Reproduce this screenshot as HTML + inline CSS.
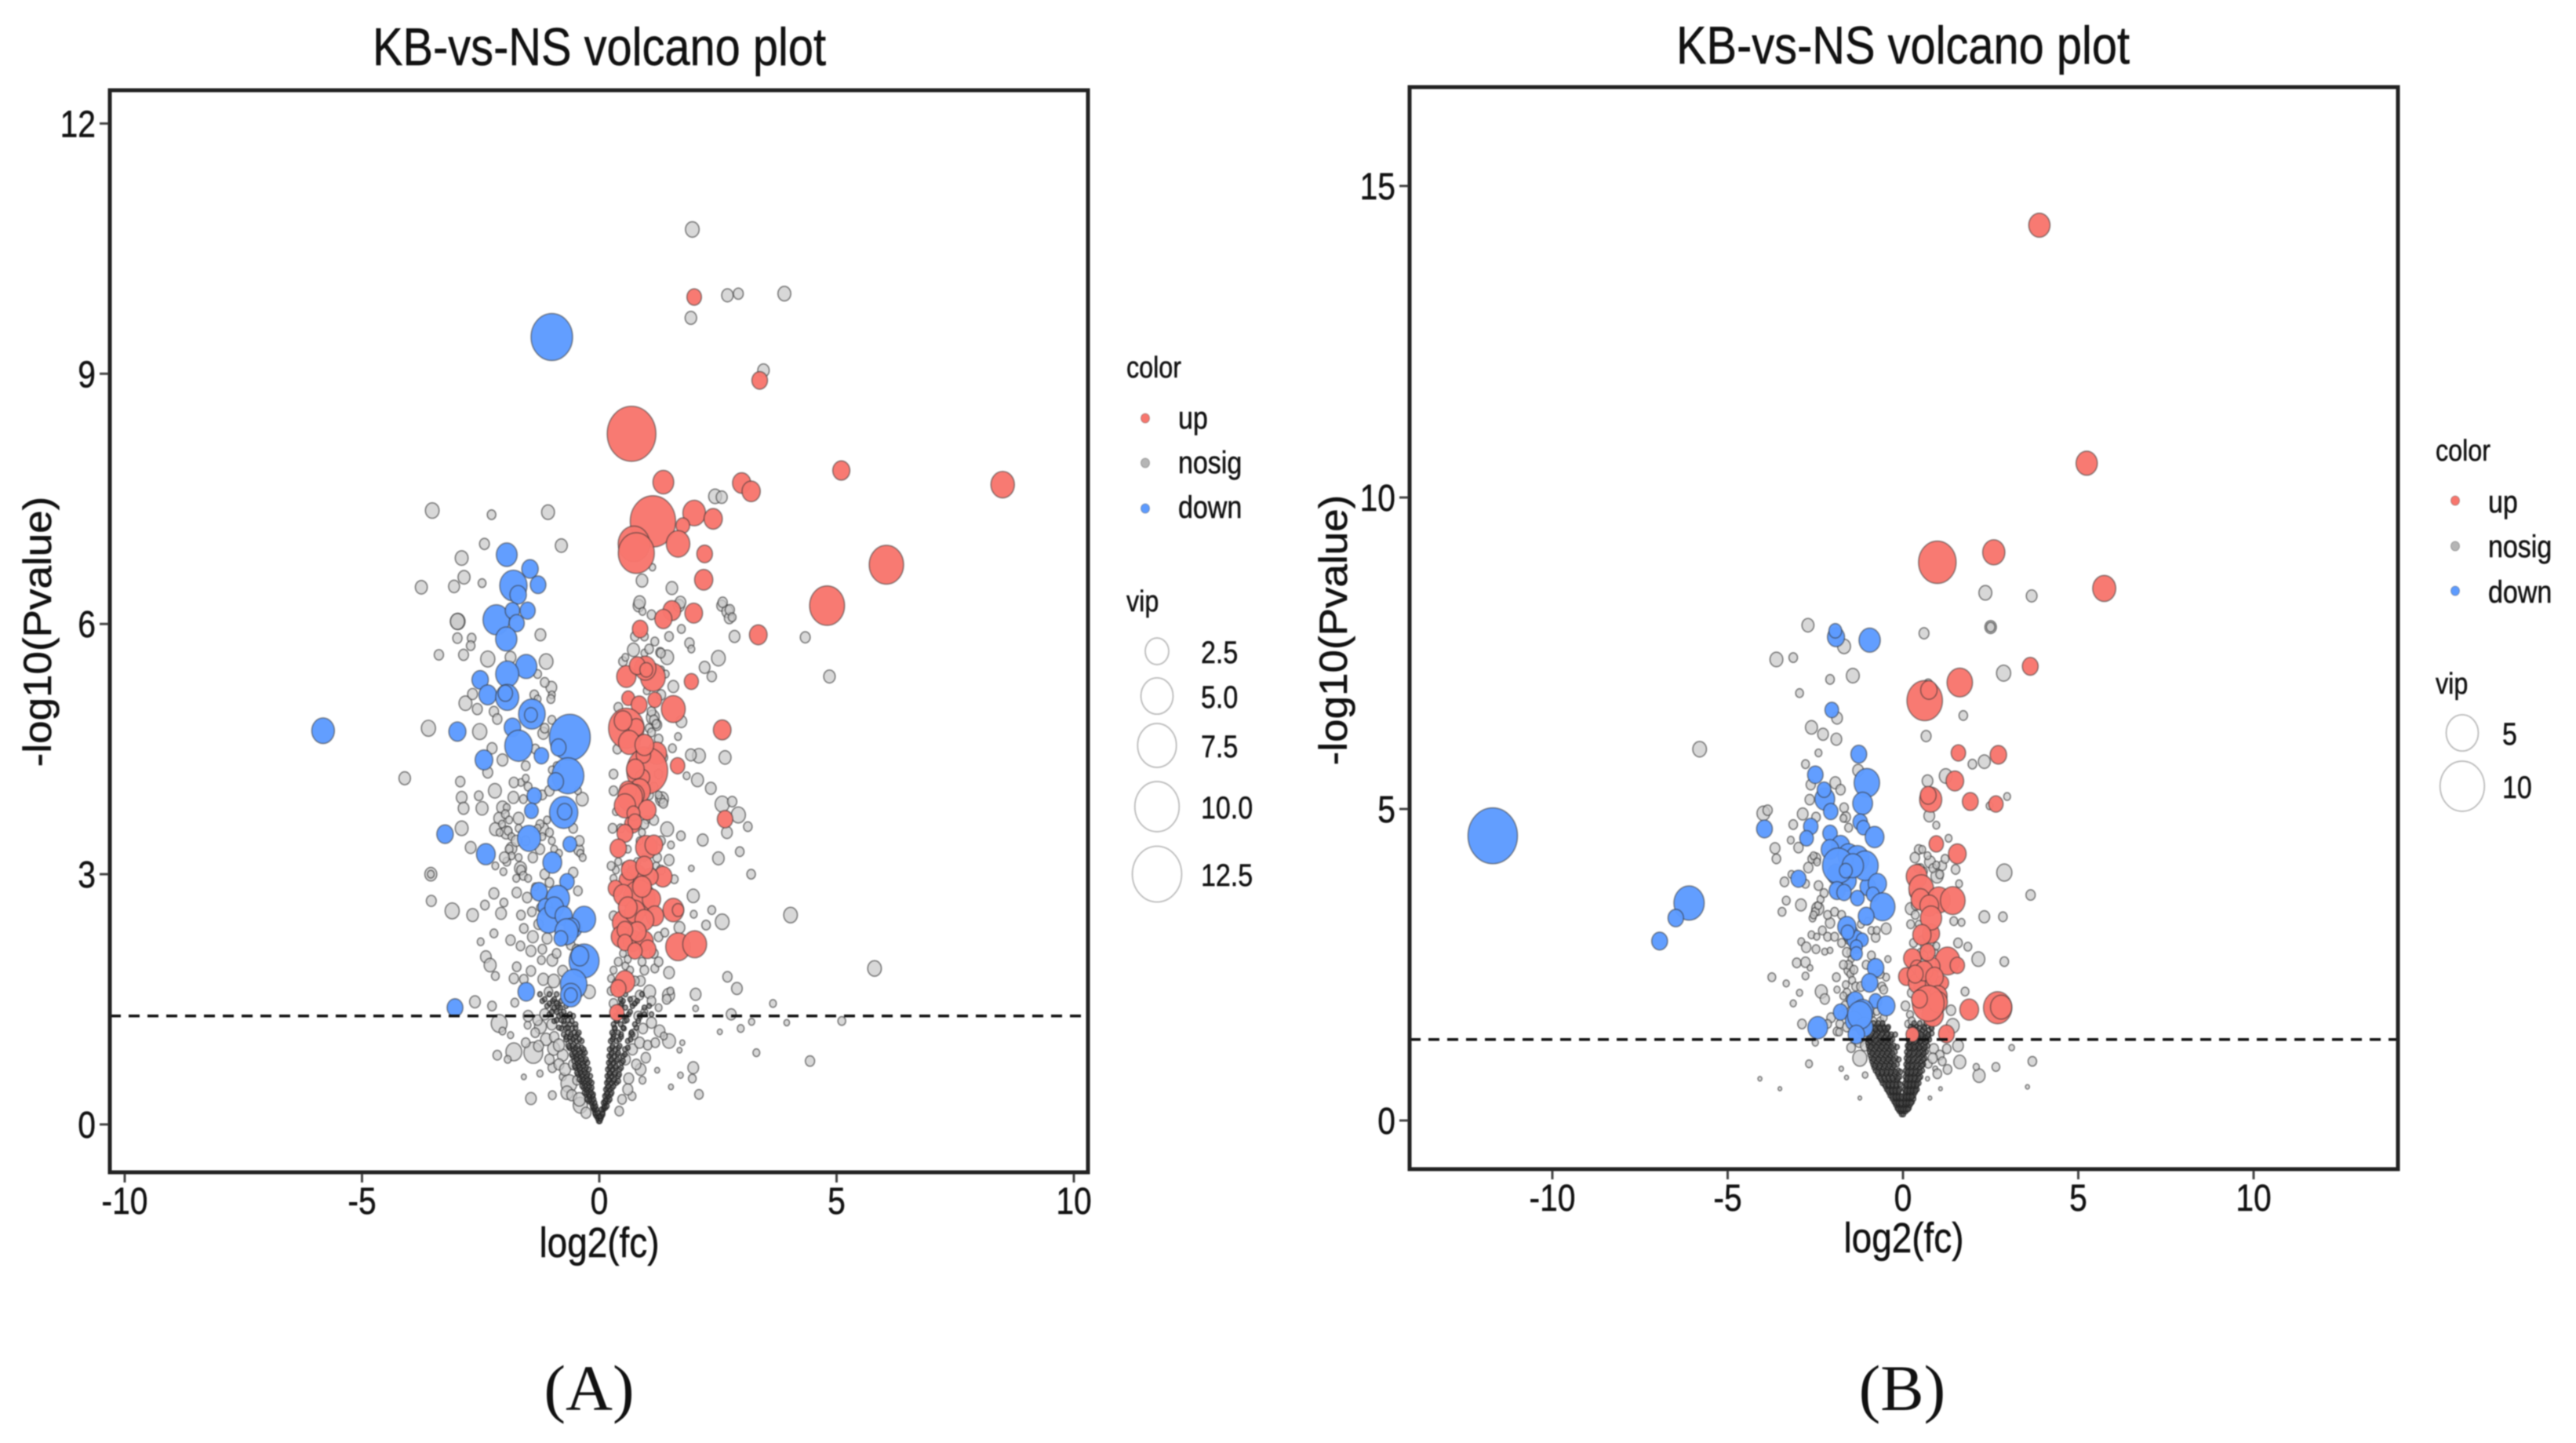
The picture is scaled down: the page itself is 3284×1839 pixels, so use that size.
<!DOCTYPE html>
<html lang="en">
<head>
<meta charset="utf-8">
<title>KB-vs-NS volcano plots</title>
<style>
html,body{margin:0;padding:0;background:#fff;width:3284px;height:1839px;overflow:hidden}
svg{display:block;filter:blur(0.9px)}
text{font-family:"Liberation Sans",sans-serif;fill:#111;stroke:#111;stroke-width:.5px}
text.caption{font-family:"Liberation Serif",serif;stroke:none}
</style>
</head>
<body>
<svg id="figure" xmlns="http://www.w3.org/2000/svg" width="3284" height="1839" viewBox="0 0 3284 1839">
  <rect width="3284" height="1839" fill="#fff"/>
  <g id="panelA"></g>
  <g id="panelB"></g>
  <text class="caption" x="751" y="1797" text-anchor="middle" font-size="83">(A)</text>
  <text class="caption" x="2425" y="1797" text-anchor="middle" font-size="83">(B)</text>
</svg>
<script>
// ---------- Panel A values: [log2fc, -log10p, vip] ----------
const upA=[[2.0,9.92,.82],[3.38,8.92,.97],[.68,8.28,12.2],[1.35,7.7,1.9],[3.0,7.69,1.4],[3.2,7.59,1.4],[5.1,7.84,1.2],[8.5,7.67,2.5],[1.13,7.23,10.5],[2.0,7.33,2.3],[2.4,7.26,1.4],[1.76,7.18,.7],[1.66,6.96,2.5],[.73,6.96,4.8],[.78,6.85,6.4],[2.22,6.84,.97],[2.2,6.53,1.4],[6.05,6.71,5.8],[4.8,6.22,6],
[1.53,6.16,1.3],[1.35,6.06,1.2],[1.99,6.13,1.3],[.86,5.94,.95],[3.35,5.87,1.3],[1.13,5.36,2.8],[.97,5.47,2],[.57,5.37,1.6],[.8,5.5,1],[.99,5.45,.6],[1.94,5.31,.76],[.61,5.11,.6],[.84,5.03,1],[1.17,5.09,.7],[1.56,4.98,2.6],[2.59,4.73,1.3],[.57,4.75,6.2],[.78,4.76,.95],[.63,4.58,2],[.5,4.84,1.3],[1.21,4.45,1.7],[1.01,4.24,8.4],[.93,4.43,.8],[1.65,4.3,.8],[.91,4.16,.8],[.76,4.26,1.3],[.85,4.0,2],[.75,3.95,1.5],[.95,4.55,1.5],[.7,3.6,1],[.6,4.0,1.2],[.65,3.92,2.8],[.54,3.82,2],[1.01,3.77,1.3],[.72,3.73,.6],[.75,3.63,.7],[2.65,3.66,.95],[.54,3.49,1],[.4,3.31,1.1],[.99,3.32,2],[1.15,3.35,1.3],[.78,2.97,2],[1.34,2.97,1.4],[1.08,2.97,.9],[.57,2.93,.8],[.34,2.83,.8],[.84,2.71,4.9],[1.1,2.7,1.4],[1.56,2.57,1.9],[1.66,2.57,.45],[1.17,2.5,1.3],[.69,2.52,.8],[.5,2.42,2],[.5,2.75,1.5],[.75,2.55,1.8],[.95,2.45,1.5],[.6,2.6,1.5],[.9,2.85,1.5],[.45,2.25,1.5],[.7,2.2,1.5],[.95,2.2,1.3],[.65,3.05,1.3],[.95,3.1,1.2],[.8,2.31,1.3],[.54,2.33,.95],[.54,2.18,.8],[1.02,2.1,1.1],[.75,2.08,.8],[1.66,2.13,2.8],[2.01,2.16,2.6],[.54,1.71,1.7],[.4,1.63,.95],[.37,1.34,.8]];
const downA=[[-1.0,9.44,8.7],[-5.82,4.72,2.3],[-1.95,6.83,1.9],[-1.46,6.66,1.1],[-1.29,6.47,.97],[-1.81,6.46,3.5],[-1.71,6.35,1.1],[-2.17,6.05,3.3],[-1.83,6.16,.8],[-1.51,6.16,.9],[-1.74,6.01,.9],[-1.96,5.82,2],
[-1.54,5.49,2],[-1.94,5.4,2.4],[-2.51,5.33,1.1],[-2.35,5.15,1.3],[-1.94,5.12,2.4],[-1.98,5.17,.8],[-1.42,4.92,3.3],[-1.44,4.91,.6],[-1.83,4.76,1.1],[-2.99,4.71,1.2],[-1.7,4.54,3.6],[-.62,4.64,8.4],[-.86,4.52,.9],[-1.22,4.42,.8],[-2.43,4.37,1.3],[-.66,4.18,4.9],[-.92,4.11,1],[-1.37,3.94,.8],[-1.43,3.76,.7],[-.75,3.74,3.8],[-.73,3.75,.8],[-3.25,3.48,1.1],[-1.48,3.43,2.4],[-.62,3.36,.7],[-2.39,3.24,1.5],[-.99,3.14,1.5],[-.68,2.91,.8],[-1.27,2.79,1.1],[-.87,2.71,2.4],[-1.14,2.61,.8],[-1.07,2.45,2.4],[-.95,2.6,1.5],[-.75,2.5,1.2],[-.55,2.35,1.2],[-.32,2.46,2.4],[-.58,2.37,.95],[-.69,2.31,2.4],[-.81,2.23,.7],[-.32,1.96,4.3],[-.41,2.02,1.3],[-.54,1.68,3.3],[-.6,1.55,1.9],[-.6,1.55,.6],[-1.54,1.59,1.1],[-3.04,1.4,1]];
const nosigA=[[1.96,10.73,.7],[2.7,9.94,.45],[2.93,9.96,.3],[3.9,9.96,.6],[1.93,9.67,.45],[3.46,9.04,.45],[-3.52,7.36,.7],[-2.27,7.31,.2],[-1.08,7.34,.6],[2.44,7.53,.6],[2.58,7.52,.4],[-2.42,6.96,.3],[-.8,6.94,.5],[-2.9,6.79,.6],[-2.85,6.56,.5],[-3.75,6.44,.5],[-3.06,6.45,.4],[-2.47,6.49,.15],[1.12,6.68,.08],[.9,6.52,.45],[1.53,6.43,.45],[.83,6.22,.4],[1.68,6.22,.4],[2.58,6.22,.3],[2.7,6.15,.4],[2.74,6.07,.3],[-2.98,6.03,.8],
[-2.99,6.03,.76],[-2.99,5.83,.25],[-2.69,5.83,.2],[-2.71,5.74,.2],[-3.38,5.63,.25],[-2.86,5.63,.3],[-2.35,5.58,.76],[-1.24,5.87,.37],[-1.87,5.6,.37],[-1.12,5.55,.7],[-2.82,5.05,.6],[-2.67,5.16,.3],[-2.57,4.98,.3],[-2.22,4.95,.25],[-2.15,4.86,.25],[-1.01,5.24,.37],[-1.37,5.15,.2],[-3.6,4.75,.76],[-2.52,4.71,.76],[-1.18,4.69,.37],[-2.26,4.51,.3],[-2.04,4.37,.37],[-2.35,4.22,.3],[-4.1,4.15,.45],[-2.93,4.11,.25],[-2.2,4.0,.6],[-2.9,3.92,.37],[-2.54,3.94,.2],[-2.47,3.79,.5],[-2.86,3.79,.37],[-2.04,3.8,.45],[-1.81,3.92,.37],[-.36,3.9,.5],[-2.11,3.67,.37],[-1.7,3.67,.37],[-2.9,3.55,.6],[-2.19,3.54,.45],[-1.96,3.5,.45],[-1.18,3.54,.37],[-2.71,3.32,.37],[-1.85,3.31,.37],[-1.66,3.07,.5],[-3.55,3.0,.5],[-3.55,3.0,.1],[-2.19,3.1,.1],[-2.02,3.03,.1],[-.43,3.29,.3],[-1.74,2.78,.25],[-2.22,2.77,.3],[-3.54,2.68,.3],[-3.1,2.56,.76],[-2.67,2.51,.45],[-2.41,2.63,.2],[-2.07,2.53,.37],[-2.01,2.66,.15],[-1.65,2.51,.2],[-2.22,2.29,.15],[-2.5,2.19,.1],[-1.87,2.21,.25],
[-1.59,2.35,.2],[-1.4,2.25,.37],[-1.1,2.23,.3],[-1.66,2.14,.2],[-1.44,2.08,.3],[-2.39,2.01,.37],[-2.3,1.91,.5],[-2.19,1.78,.15],[-1.74,1.89,.2],[-1.44,1.84,.25],[-1.8,1.75,.25],[-1.59,1.74,.2],[-1.18,1.74,.37],[-.96,1.72,.5],[-2.62,1.47,.37],[-2.26,1.42,.2],[-1.78,1.46,.15],[-.21,1.59,.5],[-1.22,1.97,.15],[-.99,1.97,.37],[-.77,1.84,.3],[-1.07,1.59,.2],[-.92,1.42,.37],[-2.11,1.21,1],[-1.51,1.19,.1],[-1.24,1.17,.5],[-1.87,1.07,.07],[-2.04,1.12,.1],[-1.8,.87,1],[-1.39,.86,1.5],[-2.15,.83,.2],[-1.93,.78,.1],[-.96,.91,.5],[-.77,.83,.37],[-1.59,.57,.03],[-1.25,.61,.07],[-.99,.68,.2],[-.77,.57,.1],[-.64,.49,1],[-1.44,.31,.37],[-.99,.35,.15],[-.4,.23,.76],[-.47,.53,.2],
[.85,6.26,.45],[1.71,6.26,.37],[.91,6.15,.1],[1.1,6.11,.2],[2.6,6.26,.25],[2.75,6.17,.25],[2.8,6.08,.15],[1.73,5.94,.15],[1.47,5.85,.2],[1.17,5.79,.15],[2.85,5.85,.37],[4.34,5.84,.3],[1.9,5.77,.25],[1.94,5.7,.1],[.72,5.69,.5],[1.28,5.66,.2],[1.43,5.6,.6],[2.51,5.59,.7],[2.22,5.48,.37],[2.37,5.37,.25],[4.85,5.37,.45],[1.56,5.25,.37],[1.13,4.88,.6],[1.21,4.79,.3],[1.73,4.83,.37],[1.66,4.65,.1],[1.54,4.51,.15],[2.1,4.42,.6],[1.93,4.43,.37],[2.65,4.4,.5],[1.32,3.9,.6],[1.84,4.18,.1],[2.07,4.13,.5],[2.35,4.03,.37],[2.59,3.84,.76],[2.8,3.87,.25],[2.93,3.71,.76],[3.13,3.57,.2],[2.69,3.5,.37],[1.43,3.54,.6],[1.72,3.46,.2],[2.18,3.41,.37],[2.96,3.27,.2],[2.51,3.19,.45],[1.51,3.35,.1],[1.47,3.17,.3],[1.94,3.07,.05],[3.2,3,.2],[1.58,2.94,.15],[1.98,2.74,.5],[2.37,2.57,.15],[1.99,2.52,.1],[2.59,2.43,.7],[4.03,2.51,.7],[2.25,2.39,.2],[1.69,2.36,.37],[5.8,1.87,.7],[2.7,1.77,.25],[2.9,1.63,.37],[2.03,1.56,.37],[1.47,1.82,.37],[1.46,1.55,.5],[1.06,1.59,.5],[.87,1.72,.25],[1.17,1.87,.15],[3.66,1.45,.1],[2.03,1.39,.05],[2.78,1.32,.3],[3.21,1.23,.07],[3.95,1.22,.05],[5.11,1.24,.15],[2.98,1.15,.1],[2.54,1.11,.03],[1.27,1.12,.37],[1.47,1,.6],[1.36,1.06,.1],[1.75,.98,.03],[1.69,.89,.03],[3.31,.86,.1],[4.44,.76,.25],[1.98,.68,.37],[1.71,.59,.05],[1.22,.65,.03],[1.96,.55,.15],[.87,.66,.37],[2.1,.36,.2],[1.51,.45,.03],[.69,.34,.15],[.91,.53,.1],
[-1.95,3.8,.1],[-1.98,3.72,.15],[-1.9,3.65,.1],[-2.05,3.6,.1],[-1.92,3.52,.15],[-2.1,3.5,.1],[-1.85,3.45,.1],[-1.7,3.55,.1],[-1.6,3.9,.15],[-1.5,4.05,.15],[-1.65,4.1,.1],[-1.55,4.15,.1],[-1.1,3.65,.1],[-1.25,3.6,.15],[-1.05,3.5,.15],[-1.2,3.45,.1],[-1.3,3.55,.1],[-1.0,3.4,.1],[-.95,3.3,.1],[-.85,3.25,.1],[-.4,3.25,.1],[-.35,3.2,.1],[-1.9,3.3,.15],[-1.85,3.22,.1],[-1.95,3.15,.15],[-1.7,3.2,.1],[-1.65,3.05,.2],[-1.6,2.98,.15],[-1.75,2.95,.1],[-1.5,2.95,.1],[-1.35,2.85,.1],[-1.25,2.6,.1],[-.45,4.0,.1],[-.9,4.3,.1],[-1.0,4.25,.1],[-1.3,5.1,.1],[-1.0,5.15,.1],[-1.02,5.1,.15],
[.5,5.55,.2],[.55,5.6,.1],[.95,5.65,.1],[1.4,5.4,.1],[1.3,5.45,.1],[1.0,5.2,.1],[1.1,4.95,.2],[1.15,4.85,.2],[1.05,4.75,.15],[1.2,4.8,.15],[.85,4.2,.1],[1.3,3.9,.15],[1.35,3.85,.2],[1.25,3.95,.1],[1.0,3.65,.1],[.9,3.5,.1],[.85,3.4,.1],[.6,3.3,.1],[.45,3.55,.15],[.35,3.75,.1],[.4,3.15,.1],[.55,3.1,.1],[.65,3.0,.15],[.8,3.15,.1],[.95,3.2,.1],[1.2,3.1,.1],[.3,2.95,.1],[.35,3.05,.1],[.5,2.05,.1],[.4,1.95,.15],[.3,1.85,.1],[.55,1.9,.1],[.6,1.98,.1],[.65,1.85,.1],[.25,1.75,.1],[.35,1.7,.1],[.95,1.35,.1],[1.25,1.4,.1],[1.42,1.5,.2],[1.5,1.6,.1],
[-1.5,1.3,.3],[-1.3,1.25,.25],[-1.15,1.32,.3],[-1.0,1.2,.3],[-1.35,1.1,.2],[-1.12,1.02,.4],[-.95,1.05,.25],[-1.55,.98,.2],[-1.28,.94,.3],[-.85,.95,.4],[-1.05,.78,.25],[-.85,.72,.3],[-.72,.66,.4],[-.68,.38,.5],[-.58,.35,.3],[-.55,.72,.25],[-.6,.95,.3],[-.42,.3,.5],[.62,.55,.3],[.55,.78,.3],[.7,.9,.3],[.78,.72,.25],[.85,.98,.3],[.98,.8,.25],[.72,1.08,.25],[.92,1.15,.25],[1.1,1.22,.3],[1.02,.95,.2],[.6,.42,.3],[.48,.3,.2],[.82,1.3,.2],[1.18,.98,.2],[.42,.16,.2],[-.28,.14,.3],
[-.6,2.15,.2],[-.48,2.1,.2],[-.9,2.05,.2],[-1.2,2.1,.2],[-1.28,2.4,.25],[-1.42,2.55,.2],[-1.52,2.72,.25],[-.45,2.8,.2],[-.55,3.02,.25],[-.42,3.4,.25],[-.55,3.55,.2],[-1.15,3.0,.25],[-1.05,2.9,.2],[-1.4,3.2,.25],[-1.25,3.3,.25],[-1.55,3.4,.2],[-1.75,3.4,.3],[-2.0,3.2,.3],[-1.45,3.75,.2],[-1.2,3.95,.2],[-1.05,4.0,.25],[-1.55,4.3,.2],[-1.8,4.1,.25],[-1.35,4.5,.2],[-1.15,4.75,.2],[-1.0,4.85,.15],[-1.55,5.0,.2],[-1.15,5.3,.2],[-1.3,5.4,.15],
[.3,2.5,.2],[.25,3.1,.15],[.28,3.55,.2],[.3,4.0,.2],[.3,4.2,.2],[.38,4.5,.2],[.4,5.0,.2],[.95,3.6,.2],[1.15,3.65,.25],[1.22,3.2,.2],[1.3,3.4,.2],[1.3,3.05,.2],[1.25,2.25,.2],[1.15,2.05,.2],[1.25,1.95,.2],[1.38,2.3,.15],[.25,1.6,.15],[.3,1.45,.2],[.72,1.48,.2],[.85,1.55,.2],[.95,1.85,.2],[.75,1.72,.2],[1.1,1.48,.2],[.9,1.95,.15],[1.05,3.95,.2],[1.15,4.05,.15],[1.25,4.2,.2],[1.35,4.4,.2],[1.25,4.62,.2],[1.1,4.7,.15],[1.3,5.15,.25],[1.3,5.65,.2],[1.05,5.7,.2],[.95,5.85,.15],[.75,5.85,.2]];
// Dense base of the volcano, panel A: one significance level per row, its log2fc values beside it
const baseLevelsA=[.04,.07,.1,.12,.14,.18,.2,.22,.26,.28,.3,.34,.36,.38,.42,.44,.46,.5,.52,.54,.58,.6,.62,.66,.68,.7,.74,.76,.78,.82,.84,.86,.9,.92,.94,1.0,1.02,1.05,1.08,1.1,1.15,1.16,1.2,1.24,1.25,1.3,1.32,1.35,1.4,1.42,1.45,1.48,1.5,1.56];
const baseFcA=[[-.01,.01],[-.03,.02,.03],[-.06,-.02,.05,.02],[-.08,.07],[-.09,-.04,.07],[-.11,-.06,.09,.05],[-.13,-.1,.1,.13],[-.14,-.08,.11,.16],[-.17,-.1,.13,.09],[-.22,-.15,.12,.19],[-.2,-.12,-.26,.15,.22],[-.22,-.14,.12,.19],[-.28,-.2,-.13,.15,.24],[-.26,-.17,-.31,.17,.26],[-.28,-.19,.14,.22],[-.33,-.24,-.16,.17,.27],[-.3,-.21,-.36,.19,.3],[-.33,-.23,-.16,.16,.26,.36],[-.38,-.29,-.2,.19,.3,.4],[-.35,-.25,-.42,.2,.31],[-.37,-.27,-.19,.17,.26,.4],[-.45,-.35,-.25,.21,.32,.42],[-.4,-.3,-.47,.22,.33],[-.42,-.31,-.22,.18,.28,.43],[-.5,-.4,-.28,.22,.34,.46],[-.44,-.33,-.52,.23,.35],[-.46,-.35,-.25,.2,.3,.47],[-.53,-.42,-.31,.24,.36,.5],[-.48,-.37,-.28,.25,.38],[-.5,-.39,-.56,.21,.32,.5],[-.58,-.46,-.34,.25,.38,.54],[-.52,-.41,-.3,.26,.4],[-.55,-.43,-.33,.22,.34,.54],[-.62,-.5,-.37,.27,.4,.6],[-.57,-.45,-.64,.28,.43],[-.6,-.48,-.37,.24,.36,.6],[-.7,-.55,-.42,.28,.42,.66],[-.62,-.5,-.7,.3,.46],[-.75,-.6,-.46,.3,.46,.7],[-.66,-.53,-.43,.27,.4,.68],[-.7,-.57,-.8,.33,.52],[-.85,-.66,-.5,.32,.5,.78],[-.74,-.62,-.5,.3,.45,.75],[-.95,-.75,-.58,.36,.54,.82],[-.8,-.66,-.9,.38,.58],[-.85,-.7,-.55,.34,.5,.85],[-1.05,-.8,-.62,.4,.62,.95,1.1],[-.9,-.75,-1.0,.42,.65],[-.95,-.82,.38,.55,.95],[-1.1,-.88,-.7,.45,.7,1.05],[-1.05,-.9,.47,.75],[-1.2,-.98,-.8,.5,.8],[-1.15,-.95,.45,.65],[-1.25,-1.05,-.9,.55,.9]];

// ---------- Panel B values: [log2fc, -log10p, vip] ----------
const upB=[[3.89,14.37,2],[5.24,10.55,2],[.98,8.96,7],[2.59,9.12,2.2],[5.74,8.54,2.4],[.62,6.74,6.2],[.74,6.91,1.1],[1.62,7.03,3],[3.63,7.29,1],[1.58,5.9,.8],[2.72,5.87,1.1],[1.48,5.45,1.3],[.79,5.15,2.2],[.72,5.22,1],[1.92,5.12,1],[2.65,5.08,.8],[.95,4.44,.8],[1.55,4.28,1.3],[.39,3.92,1.9],[.52,3.72,2.8],[1.02,3.54,2.4],[1.42,3.53,2.8],[.5,3.55,1.5],[.75,3.45,1.5],[.8,3.0,1.2],[.8,3.25,2],[.54,2.98,1.4],[.27,2.6,1.3],[1.27,2.56,2.8],[1.55,2.49,.8],[.82,2.47,1.1],[.4,2.45,.7],[.1,2.31,1],[.82,2.32,.6],[1.12,2.21,.6],[.57,2.16,1.3],[.4,2.2,1.2],[.6,2.4,1.3],[.9,2.3,1.3],[1,2.0,1.4],[.55,1.95,1.5],[.85,1.7,2],[1.0,1.9,1.5],[.7,2.7,.9],[.35,2.35,1],[.72,1.88,4.9],[.47,1.95,1],[1.89,1.78,1.5],[2.7,1.81,3.8],[2.8,1.82,2],[1.24,1.39,1],[.27,1.38,.6]];
const downB=[[-11.7,4.57,12.6],[-6.1,3.49,4.4],[-6.48,3.25,.95],[-6.94,2.88,1],[-1.91,7.76,1.2],[-1.93,7.86,.6],[-.95,7.71,2],[-2.03,6.59,.7],[-1.26,5.88,1],[-2.5,5.55,.95],[-1.03,5.42,3],[-2.23,5.16,1.7],[-2.25,5.31,.7],[-1.15,5.09,1.7],[-2.06,4.96,.8],[-1.22,4.79,.8],[-1.13,4.7,.6],[-2.63,4.72,.8],[-.81,4.55,1.5],[-3.95,4.68,1],[-2.75,4.53,.7],[-2.08,4.61,.8],[-1.78,4.41,1.4],[-2.08,4.35,1.3],[-1.55,4.25,2],[-1.3,4.2,2.5],[-1.6,3.85,1.5],[-1.9,3.95,1.4],[-1.0,3.75,1],[-1.85,4.09,4.7],[-1.08,4.09,3.2],[-1.43,4.09,2],[-1.63,4.01,.6],[-2.98,3.88,.9],[-.73,3.8,1.4],[-1.88,3.69,1],[-1.68,3.66,.8],[-1.3,3.57,.7],[-.86,3.63,.6],[-.58,3.43,2.8],[-1.05,3.28,1],[-1.5,3.0,1],[-1.35,2.9,1.2],[-1.6,3.11,1.4],[-1.58,3.02,.6],[-1.16,2.9,.5],[-1.33,2.79,.5],[-1.33,2.68,.5],[-.78,2.45,1.1],[-.95,2.21,1.1],[-1.36,1.92,1.1],[-.78,1.92,.6],[-.48,1.84,1.3],[-1.78,1.74,.8],[-1.15,1.75,2],[-1.4,1.6,1.2],[-1.1,1.5,1.2],[-1.23,1.69,2.8],[-2.43,1.49,1.7],[-1.33,1.38,1.1]];
const nosigB=[[-2.71,7.95,.5],[-3.13,7.43,.2],[-3.61,7.4,.6],[-1.68,7.61,.6],[-2.08,7.08,.2],[-1.43,7.14,.6],[-2.95,6.86,.15],[-1.88,6.46,.37],[-2.61,6.31,.5],[-2.28,6.2,.37],[-1.9,6.12,.37],[-2.41,5.9,.1],[-5.8,5.96,.7],[-2.78,5.72,.15],[-1.28,5.62,.37],[-1.93,5.42,.37],[-2.63,5.39,.25],[-1.78,5.31,.25],[-2.66,5.15,.25],[-1.68,5.02,.2],[-1.63,4.87,.25],[-2.86,4.92,.37],[-3.98,4.93,.6],[-3.86,4.98,.25],[-3.13,4.75,.2],[-2.48,4.87,.2],[-3.2,4.5,.1],[-2.98,4.38,.25],[-3.65,4.37,.3],[-3.61,4.2,.2],[-2.48,4.21,.25],[-2.7,4.06,.25],[-3.38,3.83,.2],[-3.18,3.95,.1],[-2.41,3.77,.2],[-2.78,3.8,.15],[-3.33,3.53,.15],[-3.45,3.35,.15],[-2.91,3.46,.37],[-2.43,3.4,.5],[-2.58,3.25,.1],[-2.08,3.17,.25],[-.48,3.08,.3],[-.78,2.94,.2],[-2.61,2.98,.1],[-2.46,2.95,.07],[-2.9,2.87,.1],[-2.76,2.78,.25],[-2.48,2.75,.15],[-2.23,2.71,.07],[-2.08,2.73,.05],[-3.03,2.53,.2],[-2.78,2.54,.25],[-2.65,2.45,.05],[-2.78,2.32,.1],[-3.74,2.3,.15],[-3.33,2.2,.07],[-2.95,2.05,.07],[-3.13,1.88,.07],[-2.33,2.07,.5],[-2.23,1.95,.25],[-1.88,2.1,.07],[-1.48,2.59,.07],[-1.53,2.42,.37],[-1.63,2.18,.1],[-.48,2.3,.1],[-.43,2.59,.07],[-1.88,1.43,.15],[-2.5,1.25,.07],[-1.23,1,.76],[-1.48,1.17,.2],[-2.68,.91,.1],[-1.76,.83,.02],[-1.61,.69,.01],[-1.08,.73,.05],[-4.08,.67,.01],[-3.51,.51,.005],[-1.23,.36,.005],[-2.88,1.55,.2],
[2.35,8.47,.6],[3.67,8.42,.37],[.6,7.82,.3],[2.5,7.92,.45],[2.5,7.92,.2],[2.87,7.18,.76],[.72,7.01,.2],[1.72,6.5,.2],[.66,6.17,.3],[1.98,5.72,.2],[2.32,5.76,.5],[1.22,5.53,.6],[.7,5.45,.37],[2.97,5.2,.1],[2.47,5.05,.1],[.75,4.89,.37],[.95,4.74,.1],[1.3,4.53,.1],[.45,4.35,.2],[.34,4.22,.25],[.77,4.15,.37],[1.12,4.09,.2],[1.5,4.03,.2],[.97,3.92,.5],[2.89,3.98,.9],[1.6,3.8,.1],[3.64,3.62,.25],[.22,3.4,.37],[.37,3.46,.25],[2.32,3.27,.37],[2.85,3.27,.2],[1.67,3.18,.1],[1.57,2.85,.2],[1.85,2.79,.15],[2.15,2.59,.6],[2.89,2.55,.2],[1.77,2.07,.15],[1.37,1.77,.25],[1.42,1.52,.6],[.07,1.84,.2],[1.57,1.2,.37],[1.62,.94,.5],[3.1,1.17,.05],[3.69,.95,.2],[2.17,.72,.5],[2.65,.86,.15],[2.09,.86,.07],[1.27,.82,.2],[.92,.83,.03],[.72,.91,.15],[1.07,.51,.005],[3.55,.54,.01],[.77,.36,.005],[.7,.67,.01],
[-2.5,3.35,.15],[-2.42,3.45,.1],[-2.55,3.3,.1],[-2.35,3.55,.1],[-2.6,4.2,.15],[-2.55,4.25,.1],[-2.45,4.15,.1],[-1.55,2.9,.15],[-1.5,2.7,.1],[-1.55,2.5,.15],[-1.5,2.35,.1],[-1.45,2.25,.1],[-1.6,2.05,.15],[-1.7,2.0,.1],[-1.65,1.85,.15],[-1.75,1.7,.1],[-1.8,1.55,.15],[-1.82,1.42,.1],[-.9,1.7,.1],[-.85,1.6,.1],[-.75,1.75,.1],[-.65,1.6,.1],[-.6,1.5,.1],[-.55,1.65,.1],[-1.05,1.45,.1],[-.95,1.5,.1],[-.7,1.45,.1],[-1.55,4.7,.15],[-1.7,4.85,.1],[-1.0,3.2,.1],[-1.2,3.15,.1],[-.9,3.05,.1],[-.75,3.05,.1],
[.55,2.9,.15],[.6,2.8,.1],[.7,2.75,.1],[.8,2.85,.15],[.9,2.7,.1],[.65,2.95,.1],[.75,3.0,.1],[.85,2.95,.1],[.95,2.8,.1],[.5,2.7,.1],[.6,2.65,.15],[.45,3.15,.1],[.35,3.3,.15],[.5,4.05,.15],[.6,4.0,.1],[.85,4.05,.15],[.95,4.1,.1],[.7,4.25,.1],[.55,4.35,.1],[.3,2.3,.1],[.2,1.7,.1],[.15,1.55,.1],[.25,1.6,.1],[.7,1.35,.1],[.3,1.45,.1],
[-2.3,3.05,.15],[-2.15,3.3,.15],[-1.95,3.35,.15],[-1.75,3.3,.15],[-2.25,3.65,.15],[-2.15,2.95,.15],[-1.95,2.95,.15],[-1.75,2.85,.15],[-1.6,2.7,.2],[-1.7,2.5,.15],[-1.9,2.3,.15],[-1.4,2.42,.15],[-1.35,2.15,.15],[-1.5,1.95,.2],[-1.2,2.15,.2],[-1.05,2.5,.15],[-.9,2.65,.15],[-.65,2.35,.15],[-.6,2.15,.15],[-.55,2.1,.15],[-2.05,1.65,.2],[-2.15,1.55,.15],[-1.6,1.5,.2],[-1.25,1.25,.2],[-1.08,1.2,.25],[-.75,1.25,.2],[.22,1.2,.2],[.35,1.25,.2],[.52,1.12,.2],[.88,1.15,.25],[1.05,1.05,.2],[1.25,1.15,.2],[.85,1.0,.25],[.98,.75,.2],[1.12,.95,.15],[.25,2.05,.2],[.3,2.85,.15],[.22,3.15,.15],[.3,3.65,.15],[.42,4.05,.15],[1.2,4.2,.15],[1.05,3.95,.15],[1.45,3.2,.15]];
// Dense base of the volcano, panel B
const baseLevelsB=[.1,.15,.2,.25,.3,.35,.4,.45,.5,.55,.6,.65,.7,.75,.8,.85,.9,.95,1.0,1.05,1.1,1.15,1.2,1.25,1.3,1.35,1.4,1.45,1.5,.18,.28,.38,.48,.58,.68,.78,.88,.98,1.08,1.18,1.28,1.38,1.48,1.56];
const baseFcB=[[-.04,.01],[-.1,-.05,.03,.08],[-.16,-.09,-.03,.04,.1,.17],[-.2,-.13,-.06,.05,.12,.2],[-.25,-.17,-.09,.03,.1,.18,.26],[-.3,-.21,-.12,-.05,.06,.14,.23,.3],[-.36,-.27,-.18,-.09,.04,.12,.2,.3],[-.4,-.31,-.22,-.13,.07,.16,.25,.34],[-.46,-.37,-.27,-.17,-.09,.05,.13,.22,.31,.4],[-.5,-.41,-.31,-.2,.08,.18,.28,.38],[-.58,-.47,-.36,-.25,-.13,.06,.15,.25,.35,.45],[-.62,-.5,-.39,-.28,-.17,.1,.2,.31,.42],[-.68,-.56,-.44,-.33,-.2,-.1,.07,.17,.27,.38,.5],[-.72,-.6,-.48,-.36,-.24,.11,.22,.33,.44],[-.78,-.65,-.52,-.4,-.27,-.13,.08,.18,.3,.42,.55],[-.82,-.68,-.55,-.43,-.3,.12,.24,.36,.48],[-.85,-.72,-.58,-.45,-.32,-.17,.09,.2,.32,.45,.58],[-.88,-.75,-.6,-.47,-.34,.13,.26,.4,.52],[-.9,-.76,-.62,-.48,-.35,-.2,.1,.22,.35,.48,.62],[-.93,-.78,-.63,-.5,-.36,.14,.27,.42,.56],[-.95,-.8,-.66,-.52,-.38,-.23,.11,.24,.38,.52,.66],[-.96,-.81,-.67,-.53,-.39,.16,.3,.45,.6],[-.98,-.83,-.68,-.54,-.4,-.26,.13,.27,.41,.56,.7],[-1.0,-.84,-.7,-.55,-.42,.18,.33,.48,.64],[-1.0,-.86,-.72,-.57,-.43,-.3,.15,.3,.45,.6,.75],[-.95,-.8,-.65,-.5,-.36,.2,.36,.52,.7],[-1.02,-.88,-.72,-.58,-.44,.18,.34,.5,.66,.82],[-.94,-.78,-.62,-.48,.24,.4,.56,.74],[-1.0,-.85,-.7,-.55,-.42,.22,.38,.6,.8],
[-.13,-.06,0,.07,.14],[-.21,-.13,-.05,.07,.15,.23],[-.31,-.22,-.13,-.04,.08,.16,.25],[-.42,-.32,-.22,-.12,.09,.18,.27,.36],[-.52,-.42,-.3,-.19,-.08,.1,.2,.3,.4],[-.64,-.53,-.41,-.3,-.14,.12,.22,.33,.46],[-.72,-.59,-.46,-.34,-.21,-.07,.13,.24,.36,.49],[-.8,-.66,-.52,-.39,-.25,.14,.26,.39,.54],[-.84,-.7,-.56,-.42,-.27,-.12,.16,.29,.43,.58],[-.88,-.73,-.59,-.45,-.3,.18,.31,.45,.6],[-.92,-.76,-.61,-.47,-.33,-.17,.19,.33,.47,.63],[-.94,-.78,-.63,-.49,-.35,.21,.36,.5,.68],[-.92,-.77,-.61,-.46,-.33,-.22,.23,.38,.53,.72],[-.95,-.8,-.65,-.52,-.44,.3,.46,.62,.82],[-.98,-.84,-.7,-.58,.32,.48,.66,.84]];

// ---------- Shared axis values ----------
const xTicksA=[-10,-5,0,5,10];
const yTicksA=[0,3,6,9,12];
const xTicksB=[-10,-5,0,5,10];
const yTicksB=[0,5,10,15];
const colorLegendLabels=["up","nosig","down"];
const vipLegendA=[2.5,5.0,7.5,10.0,12.5];
const vipLegendB=[5,10];
const significanceLine=1.3;
const baseVip=.02;

const SVGNS="http://www.w3.org/2000/svg";
const FILL={up:"#f8766d",nosig:"#c9c9c9",down:"#5d9bff"};

function make(parent,tag,attrs){
  const el=document.createElementNS(SVGNS,tag);
  for(const k in attrs)el.setAttribute(k,attrs[k]);
  parent.appendChild(el);
  return el;
}
function label(parent,str,x,y,size,anchor,name,sx){
  const t=make(parent,"text",{"font-size":size,"text-anchor":anchor,transform:`translate(${x},${y}) scale(${sx===undefined?.85:sx},1)`});
  t.textContent=str;
  
  
  return t;
}
function vipRadius(v){return 1.7+8.4*Math.sqrt(v);}
function vipLabel(v,decimals){return decimals?v.toFixed(1):String(v);}

function drawPanel(cfg){
  const g=document.getElementById(cfg.id);
  const sx=v=>cfg.x0+v*cfg.xUnit;
  const sy=v=>cfg.y0-v*cfg.yUnit;
  function dot(layer,x,y,v,kind,thin){
    const rx=vipRadius(v);
    const e=make(layer,"ellipse",{cx:sx(x),cy:sy(y),rx:rx,ry:rx*1.13,fill:thin?"#555":FILL[kind],"fill-opacity":thin?.55:(kind==="nosig"?.72:.97),stroke:thin?"#222":"#333","stroke-opacity":thin?.7:(kind==="nosig"?.62:.55),"stroke-width":thin?1.7:1.6});
    
    
  }
  const pts=make(g,"g",{});
  
  
  cfg.nosig.forEach(p=>dot(pts,p[0],p[1],p[2],"nosig"));
  cfg.baseLevels.forEach((lvl,i)=>cfg.baseFc[i].forEach(fc=>dot(pts,fc,lvl,baseVip,"nosig",true)));
  cfg.down.forEach(p=>dot(pts,p[0],p[1],p[2],"down"));
  cfg.up.forEach(p=>dot(pts,p[0],p[1],p[2],"up"));

  const hl=make(g,"line",{x1:cfg.left,x2:cfg.right,y1:sy(significanceLine),y2:sy(significanceLine),stroke:"#111","stroke-width":3.5,"stroke-dasharray":"14 10"});
  
  

  const box=make(g,"rect",{x:cfg.left,y:cfg.top,width:cfg.right-cfg.left,height:cfg.bottom-cfg.top,fill:"none",stroke:"#222","stroke-width":5});
  
  

  cfg.xTicks.forEach(v=>{
    const tk=make(g,"line",{x1:sx(v),x2:sx(v),y1:cfg.bottom+2,y2:cfg.bottom+13,stroke:"#444","stroke-width":3});
    
    
    label(g,String(v),sx(v),cfg.bottom+53,48,"middle",'x-tick-label');
  });
  cfg.yTicks.forEach(v=>{
    const tk=make(g,"line",{x1:cfg.left-13,x2:cfg.left-2,y1:sy(v),y2:sy(v),stroke:"#444","stroke-width":3});
    
    
    label(g,String(v),cfg.left-18,sy(v)+17,48,"end",'y-tick-label');
  });

  label(g,"KB-vs-NS volcano plot",cfg.titleX,cfg.titleY,68,"middle",'chart-title');
  label(g,"log2(fc)",cfg.xTitleX,cfg.xTitleY,54,"middle",'x-axis-title');
  const yt=make(g,"text",{"font-size":50,"text-anchor":"middle",transform:`translate(${cfg.yTitleX},${cfg.yTitleY}) rotate(-90) scale(1.06,1)`});
  yt.textContent="-log10(Pvalue)";
  
  

  const L=cfg.legend;
  label(g,"color",L.x,L.colorY,38,"start",'color-legend-title');
  colorLegendLabels.forEach((name,i)=>{
    const kind=name;
    const c=make(g,"ellipse",{cx:L.dotX,cy:L.dotY[i],rx:5.5,ry:6,fill:kind==="nosig"?"#b5b5b5":FILL[kind],stroke:"#333","stroke-opacity":.35,"stroke-width":1});
    
    
    label(g,name,L.labelX,L.labelY[i],40,"start",'legend-label-'+name);
  });
  label(g,"vip",L.x,L.vipY,38,"start",'vip-legend-title');
  cfg.vipLegend.forEach((v,i)=>{
    const rx=vipRadius(v);
    const c=make(g,"ellipse",{cx:L.circleX,cy:L.circleY[i],rx:rx,ry:rx*1.13,fill:"#fff",stroke:"#bbb","stroke-width":1.8});
    
    
    label(g,vipLabel(v,cfg.vipDecimals),L.vipLabelX,L.circleY[i]+L.vipLabelDy,40,"start",'vip-legend-label');
  });
}

drawPanel({id:"panelA",left:140,right:1387,top:115,bottom:1494,x0:764,xUnit:60.5,y0:1433,yUnit:106.3,
  up:upA,down:downA,nosig:nosigA,baseLevels:baseLevelsA,baseFc:baseFcA,xTicks:xTicksA,yTicks:yTicksA,vipLegend:vipLegendA,vipDecimals:true,
  titleX:764,titleY:83,xTitleX:764,xTitleY:1602,yTitleX:65,yTitleY:805,
  legend:{x:1436,colorY:481,dotX:1460,dotY:[533,590,648],labelX:1502,labelY:[546,603,660],vipY:779,circleX:1475,circleY:[830,887,950,1028,1114],vipLabelX:1531,vipLabelDy:15}});
drawPanel({id:"panelB",left:1797,right:3057,top:111,bottom:1490,x0:2426,xUnit:44.7,y0:1428,yUnit:79.4,
  up:upB,down:downB,nosig:nosigB,baseLevels:baseLevelsB,baseFc:baseFcB,xTicks:xTicksB,yTicks:yTicksB,vipLegend:vipLegendB,vipDecimals:false,
  titleX:2426,titleY:81,xTitleX:2427,xTitleY:1596,yTitleX:1717,yTitleY:803,
  legend:{x:3105,colorY:587,dotX:3130,dotY:[638,696,753],labelX:3172,labelY:[653,710,768],vipY:884,circleX:3139,circleY:[934,1002],vipLabelX:3190,vipLabelDy:15}});
</script>
</body>
</html>
